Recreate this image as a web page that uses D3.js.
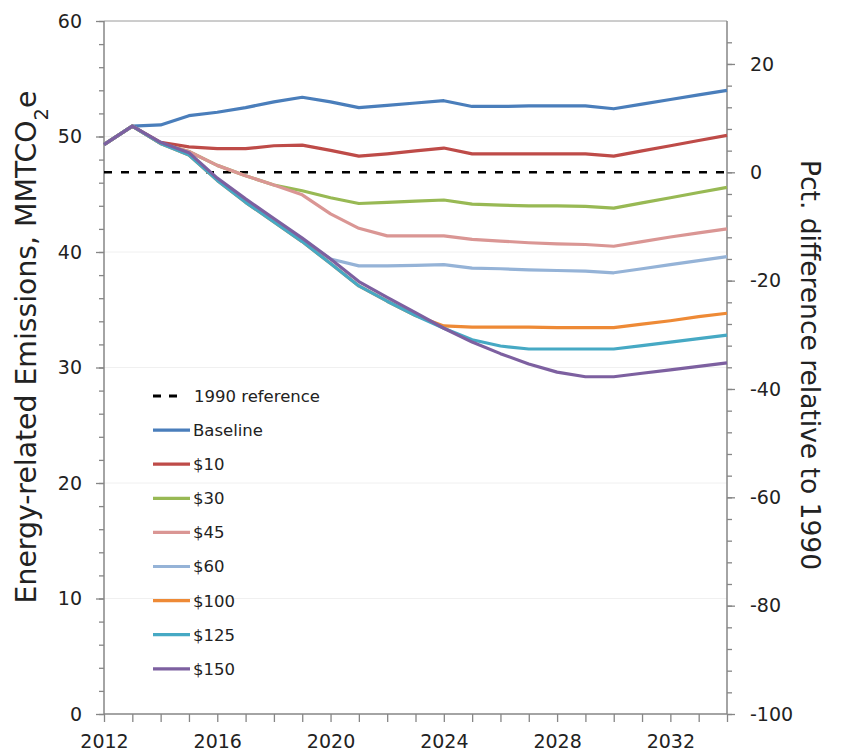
<!DOCTYPE html>
<html lang="en">

<head>
    <meta charset="utf-8" />
    <script src="https://d3js.org/d3.v7.min.js"></script>
    <title>Energy-related Emissions</title>
    <style>
        body {
            margin: 0;
            background: #fff;
        }

        text {
            font-family: 'DejaVu Sans', sans-serif;
            fill: #222;
        }
    </style>
</head>

<body>
    <div id="chart"></div>

    <script>
        // data (MMTCO2e)
        var years = d3.range(2012, 2035);
        var ref1990 = 46.9;

        var baseline = [49.3, 50.9, 51.0, 51.8, 52.1, 52.5, 53.0, 53.4, 53.0, 52.5, 52.7, 52.9, 53.1, 52.6, 52.6, 52.65, 52.65, 52.65, 52.4, 52.8, 53.2, 53.6, 54.0];
        var tax10 = [49.3, 50.9, 49.5, 49.1, 48.95, 48.95, 49.2, 49.25, 48.8, 48.3, 48.5, 48.75, 49.0, 48.5, 48.5, 48.5, 48.5, 48.5, 48.3, 48.75, 49.2, 49.65, 50.1];
        var tax30 = [49.3, 50.9, 49.4, 48.7, 47.5, 46.6, 45.8, 45.3, 44.7, 44.2, 44.3, 44.4, 44.5, 44.15, 44.05, 44.0, 44.0, 43.95, 43.8, 44.25, 44.7, 45.15, 45.6];
        var tax45 = [49.3, 50.9, 49.4, 48.7, 47.5, 46.6, 45.8, 44.95, 43.3, 42.05, 41.4, 41.4, 41.4, 41.1, 40.95, 40.8, 40.7, 40.65, 40.5, 40.9, 41.3, 41.65, 42.0];
        var tax60 = [49.3, 50.9, 49.4, 48.5, 46.3, 44.45, 42.75, 41.05, 39.4, 38.8, 38.8, 38.85, 38.9, 38.6, 38.55, 38.45, 38.4, 38.35, 38.2, 38.55, 38.9, 39.25, 39.6];
        var tax100 = [49.3, 50.9, 49.4, 48.4, 46.2, 44.3, 42.6, 40.9, 39.0, 37.06, 35.74, 34.5, 33.6, 33.5, 33.5, 33.5, 33.45, 33.45, 33.45, 33.75, 34.05, 34.4, 34.7];
        var tax125 = [49.3, 50.9, 49.4, 48.4, 46.2, 44.3, 42.6, 40.9, 39.0, 37.06, 35.74, 34.5, 33.4, 32.4, 31.86, 31.6, 31.6, 31.6, 31.6, 31.9, 32.2, 32.5, 32.8];
        var tax150 = [49.3, 50.9, 49.5, 48.6, 46.4, 44.6, 42.9, 41.2, 39.4, 37.44, 36.07, 34.75, 33.4, 32.2, 31.2, 30.3, 29.6, 29.2, 29.2, 29.5, 29.8, 30.1, 30.4];

        var seriesNames = ["Baseline", "$10", "$30", "$45", "$60", "$100", "$125", "$150"];
        var seriesValues = [baseline, tax10, tax30, tax45, tax60, tax100, tax125, tax150];
        var seriesColors = ["#4a7ebb", "#be4b48", "#98b954", "#da9694", "#95b3d7", "#ee8a36", "#46a9c4", "#7d60a0"];

        var leftTicks = [0, 10, 20, 30, 40, 50, 60];
        var rightTicks = [-100, -80, -60, -40, -20, 0, 20];
        var xTickLabels = [2012, 2016, 2020, 2024, 2028, 2032];

        var width = 843, height = 755;
        var margin = { left: 104, right: 116, top: 21, bottom: 41 };

        var svg = d3.select("#chart")
            .append("svg")
            .attr("width", width)
            .attr("height", height);

        var x = d3.scaleLinear()
            .domain([2012, 2034])
            .range([margin.left, width - margin.right]);

        var y = d3.scaleLinear()
            .domain([0, 60])
            .range([height - margin.bottom, margin.top]);

        // secondary axis: percent difference from the 1990 level
        var yR = d3.scaleLinear()
            .domain([-100, (60 / ref1990 - 1) * 100])
            .range([height - margin.bottom, margin.top]);

        // faint gridlines
        svg.append("g")
            .selectAll("line")
            .data(leftTicks.filter(function(d) { return d > 0; }))
            .enter()
            .append("line")
            .attr("x1", x(2012))
            .attr("x2", x(2034))
            .attr("y1", function(d) { return y(d); })
            .attr("y2", function(d) { return y(d); })
            .attr("stroke", function(d) { return d === 60 ? "#9a9a9a" : "#f0f0f0"; })
            .attr("stroke-width", 1);

        // axis helper: removes the domain path, styles tick lines
        function styleAxis(g) {
            g.select(".domain").remove();
            g.selectAll("line").attr("stroke", "#868686").attr("stroke-width", 1.3);
        }

        // minor ticks
        svg.append("g")
            .attr("transform", "translate(" + x(2012) + ",0)")
            .call(d3.axisLeft(y).tickValues(d3.range(0, 61, 2)).tickSize(5).tickFormat(""))
            .call(styleAxis);
        svg.append("g")
            .attr("transform", "translate(" + x(2034) + ",0)")
            .call(d3.axisRight(yR).tickValues(d3.range(-100, 28, 4)).tickSize(5).tickFormat(""))
            .call(styleAxis);

        // major ticks + labels
        var gLeft = svg.append("g")
            .attr("transform", "translate(" + x(2012) + ",0)")
            .call(d3.axisLeft(y).tickValues(leftTicks).tickSize(8).tickPadding(14))
            .call(styleAxis);
        gLeft.selectAll("text").style("font-size", "19px").attr("fill", "#222");

        // plain hyphen for negatives, as in the original
        var gRight = svg.append("g")
            .attr("transform", "translate(" + x(2034) + ",0)")
            .call(d3.axisRight(yR).tickValues(rightTicks).tickSize(8).tickPadding(15)
                .tickFormat(function(d) { return String(d); }))
            .call(styleAxis);
        gRight.selectAll("text").style("font-size", "19px").attr("fill", "#222");

        var gX = svg.append("g")
            .attr("transform", "translate(0," + y(0) + ")")
            .call(d3.axisBottom(x).tickValues(years).tickSize(8).tickFormat(function(d) {
                return xTickLabels.indexOf(d) >= 0 ? d : "";
            }).tickPadding(13))
            .call(styleAxis);
        gX.selectAll("text").style("font-size", "19px").attr("fill", "#222");

        // axis lines
        svg.append("line")
            .attr("x1", x(2012)).attr("x2", x(2012))
            .attr("y1", y(0)).attr("y2", y(60))
            .attr("stroke", "#868686").attr("stroke-width", 1.5);
        svg.append("line")
            .attr("x1", x(2034)).attr("x2", x(2034))
            .attr("y1", y(0)).attr("y2", y(60))
            .attr("stroke", "#868686").attr("stroke-width", 1.5);
        svg.append("line")
            .attr("x1", x(2012)).attr("x2", x(2034))
            .attr("y1", y(0)).attr("y2", y(0))
            .attr("stroke", "#868686").attr("stroke-width", 1.5);

        // 1990 reference
        svg.append("line")
            .attr("x1", x(2012)).attr("x2", x(2034))
            .attr("y1", y(ref1990)).attr("y2", y(ref1990))
            .attr("stroke", "#000")
            .attr("stroke-width", 2.5)
            .attr("stroke-dasharray", "8,9");

        var line = d3.line()
            .x(function(d, i) { return x(years[i]); })
            .y(function(d) { return y(d); });

        svg.append("g")
            .selectAll("path")
            .data(seriesValues)
            .enter()
            .append("path")
            .attr("d", line)
            .attr("fill", "none")
            .attr("stroke", function(d, i) { return seriesColors[i]; })
            .attr("stroke-width", 3.2)
            .attr("stroke-linejoin", "round");

        // legend
        var legend = svg.append("g").attr("transform", "translate(153,396)");
        var step = 34.1;

        legend.append("line")
            .attr("x1", 0).attr("x2", 25)
            .attr("stroke", "#000").attr("stroke-width", 2.8)
            .attr("stroke-dasharray", "8,8");
        legend.append("text")
            .attr("x", 41).attr("dy", "0.36em")
            .style("font-size", "16.5px")
            .text("1990 reference");

        var items = legend.selectAll("g.item")
            .data(seriesNames)
            .enter()
            .append("g")
            .attr("class", "item")
            .attr("transform", function(d, i) { return "translate(0," + (i + 1) * step + ")"; });

        items.append("line")
            .attr("x1", 0).attr("x2", 37)
            .attr("stroke", function(d, i) { return seriesColors[i]; })
            .attr("stroke-width", 3.2);
        items.append("text")
            .attr("x", 40).attr("dy", "0.36em")
            .style("font-size", "16.5px")
            .text(function(d) { return d; });

        // axis titles
        var leftTitle = svg.append("text")
            .attr("transform", "translate(36,347) rotate(-90)")
            .attr("text-anchor", "middle")
            .style("font-size", "28.3px")
            .attr("fill", "#000");
        leftTitle.append("tspan").text("Energy-related Emissions, MMTCO");
        leftTitle.append("tspan").attr("baseline-shift", "sub").style("font-size", "19.5px").text("2");
        leftTitle.append("tspan").text("e");

        svg.append("text")
            .attr("transform", "translate(801,365) rotate(90)")
            .attr("text-anchor", "middle")
            .style("font-size", "26.5px")
            .attr("fill", "#000")
            .text("Pct. difference relative to 1990");
    </script>
</body>

</html>
